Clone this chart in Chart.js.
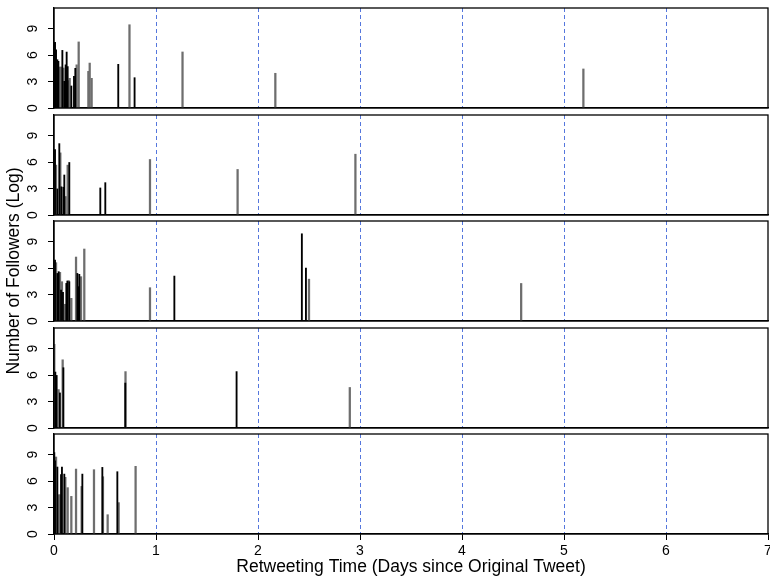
<!DOCTYPE html>
<html>
<head>
<meta charset="utf-8">
<script src="https://cdn.jsdelivr.net/npm/chart.js@4/dist/chart.umd.min.js"></script>
<style>
  html, body { margin: 0; padding: 0; background: #ffffff; }
  #wrap { position: relative; width: 770px; height: 584px; overflow: hidden; background: #ffffff; }
  #wrap canvas { position: absolute; left: 0; }
</style>
</head>
<body>
<div id="wrap"></div>
<script>
// Axis ticks and reference days
const dayTicks = [0, 1, 2, 3, 4, 5, 6, 7];
const logTicks = [0, 3, 6, 9];
const markerDays = [1, 2, 3, 4, 5, 6];

// Cascade 1: retweet times (days) and log follower counts
const c1DarkDays = [0.005, 0.010, 0.020, 0.033, 0.043, 0.082, 0.101, 0.114, 0.124, 0.134, 0.170, 0.196, 0.209, 0.630, 0.790];
const c1DarkLog  = [7.37, 7.45, 6.60, 5.48, 5.30, 6.54, 3.03, 4.90, 6.35, 4.70, 2.50, 3.60, 4.50, 4.96, 3.44];
const c1GrayDays = [0.052, 0.069, 0.092, 0.144, 0.154, 0.222, 0.242, 0.337, 0.350, 0.369, 0.740, 1.260, 2.170, 5.190];
const c1GrayLog  = [4.65, 4.65, 4.54, 3.10, 3.37, 4.90, 7.50, 4.16, 5.10, 3.37, 9.45, 6.36, 3.94, 4.43];

// Cascade 2
const c2DarkDays = [0.010, 0.033, 0.052, 0.072, 0.092, 0.101, 0.150, 0.454, 0.503];
const c2DarkLog  = [7.42, 2.96, 8.10, 3.20, 3.15, 4.54, 5.96, 3.07, 3.67];
const c2GrayDays = [0.020, 0.062, 0.114, 0.134, 0.941, 1.800, 2.955];
const c2GrayLog  = [5.66, 7.05, 2.10, 5.66, 6.30, 5.17, 6.90];

// Cascade 3
const c3DarkDays = [0.010, 0.033, 0.046, 0.069, 0.088, 0.121, 0.131, 0.150, 0.229, 0.242, 0.248, 1.180, 2.430, 2.470];
const c3DarkLog  = [6.92, 5.40, 5.60, 3.50, 3.25, 4.27, 4.54, 4.46, 5.40, 3.90, 5.30, 5.10, 9.90, 6.00];
const c3GrayDays = [0.020, 0.059, 0.078, 0.108, 0.144, 0.170, 0.216, 0.265, 0.297, 0.941, 2.500, 4.580];
const c3GrayLog  = [6.62, 5.52, 4.46, 1.90, 4.58, 2.57, 7.26, 5.03, 8.17, 3.78, 4.75, 4.26];

// Cascade 4
const c4DarkDays = [0.013, 0.026, 0.058, 0.092, 0.699, 1.790];
const c4DarkLog  = [6.35, 5.97, 3.98, 6.84, 5.10, 6.40];
const c4GrayDays = [0.003, 0.045, 0.085, 0.701, 2.900];
const c4GrayLog  = [9.50, 4.36, 7.74, 6.40, 4.60];

// Cascade 5
const c5DarkDays = [0.003, 0.010, 0.033, 0.069, 0.078, 0.101, 0.278, 0.474, 0.621];
const c5DarkLog  = [9.23, 8.30, 7.60, 6.73, 7.60, 6.80, 6.80, 7.56, 7.07];
const c5GrayDays = [0.020, 0.042, 0.059, 0.111, 0.134, 0.170, 0.216, 0.271, 0.392, 0.480, 0.526, 0.634, 0.800];
const c5GrayLog  = [8.74, 4.46, 4.46, 6.43, 5.26, 4.27, 7.37, 5.40, 7.30, 6.50, 2.19, 3.56, 7.68];

const cascades = [
  [c1DarkDays, c1DarkLog, c1GrayDays, c1GrayLog],
  [c2DarkDays, c2DarkLog, c2GrayDays, c2GrayLog],
  [c3DarkDays, c3DarkLog, c3GrayDays, c3GrayLog],
  [c4DarkDays, c4DarkLog, c4GrayDays, c4GrayLog],
  [c5DarkDays, c5DarkLog, c5GrayDays, c5GrayLog]
];

Chart.defaults.font.family = '"Liberation Sans", Arial, Helvetica, sans-serif';
Chart.defaults.color = '#000000';

const FONT_TICK = 14;
const FONT_TITLE = 17.5;
const AREA_LEFT = 54;
const AREA_RIGHT_PAD = 2;
const AREA_H = 100;
const areaTops = [8, 114.5, 221, 327.5, 434];

// Box around each panel's plotting region
const framePlugin = {
  id: 'frame',
  afterDraw(chart) {
    const a = chart.chartArea;
    const ctx = chart.ctx;
    ctx.save();
    ctx.strokeStyle = '#000000';
    ctx.lineWidth = 1.3;
    ctx.strokeRect(a.left, a.top, a.right - a.left, a.bottom - a.top);
    ctx.restore();
  }
};

// Fixed axis box sizes, with no extra room reserved for edge labels
const fixBox = (size) => (s) => {
  if (s.isHorizontal()) s.height = size; else s.width = size;
  s.paddingTop = 0; s.paddingBottom = 0; s.paddingLeft = 0; s.paddingRight = 0;
};

const wrap = document.getElementById('wrap');

cascades.forEach((c, i) => {
  const isLast = i === cascades.length - 1;
  const hasYTitle = i === 2;
  const padTop = hasYTitle ? 80 : 4;
  const padBottom = isLast ? 0 : (hasYTitle ? 80 : 4);
  const xAxisH = isLast ? 50 : 0;
  const canvasTop = areaTops[i] - padTop;
  const canvasH = padTop + AREA_H + padBottom + xAxisH;

  const canvas = document.createElement('canvas');
  canvas.width = 770;
  canvas.height = Math.round(canvasH);
  canvas.style.width = '770px';
  canvas.style.height = Math.round(canvasH) + 'px';
  canvas.style.top = canvasTop + 'px';
  wrap.appendChild(canvas);

  const toPoints = (days, vals) => days.map((d, k) => ({ x: d, y: vals[k] }));

  new Chart(canvas, {
    type: 'bar',
    data: {
      datasets: [
        {
          label: 'dark',
          data: toPoints(c[0], c[1]),
          backgroundColor: '#000000',
          borderWidth: 0,
          barThickness: 1.2,
          grouped: false
        },
        {
          label: 'gray',
          data: toPoints(c[2], c[3]),
          backgroundColor: '#6e6e6e',
          borderWidth: 0,
          barThickness: 1.6,
          grouped: false
        }
      ]
    },
    options: {
      responsive: false,
      animation: false,
      devicePixelRatio: 1,
      layout: { padding: { left: 0, right: AREA_RIGHT_PAD, top: padTop, bottom: padBottom } },
      plugins: { legend: { display: false }, tooltip: { enabled: false } },
      scales: {
        x: {
          type: 'linear',
          min: dayTicks[0],
          max: dayTicks[dayTicks.length - 1],
          offset: false,
          afterBuildTicks: (s) => { s.ticks = dayTicks.map(v => ({ value: v })); },
          afterFit: fixBox(xAxisH),
          ticks: {
            display: isLast,
            padding: 3,
            maxRotation: 0,
            font: { size: FONT_TICK },
            callback: (v) => String(v)
          },
          grid: {
            offset: false,
            drawTicks: isLast,
            tickLength: 6,
            tickColor: '#000000',
            tickWidth: 1,
            lineWidth: 1,
            color: (ctx) => (ctx.tick && markerDays.includes(ctx.tick.value)) ? '#5577dd' : 'rgba(0,0,0,0)'
          },
          border: { display: true, color: '#000000', width: 1.3, dash: [4, 3] },
          title: {
            display: isLast,
            text: 'Retweeting Time (Days since Original Tweet)',
            font: { size: FONT_TITLE },
            align: 'center',
            padding: { top: 0, bottom: 6 }
          }
        },
        y: {
          type: 'linear',
          min: 0,
          max: 11.35,
          afterBuildTicks: (s) => { s.ticks = logTicks.map(v => ({ value: v })); },
          afterFit: fixBox(AREA_LEFT),
          ticks: {
            minRotation: 90,
            maxRotation: 90,
            crossAlign: 'center',
            padding: 11,
            font: { size: FONT_TICK },
            callback: (v) => String(v)
          },
          grid: {
            drawOnChartArea: false,
            drawTicks: true,
            tickLength: 6,
            tickColor: '#000000',
            tickWidth: 1
          },
          border: { display: true, color: '#000000', width: 1.3 },
          title: {
            display: hasYTitle,
            text: 'Number of Followers (Log)',
            font: { size: FONT_TITLE },
            padding: { top: 3.5, bottom: 0 }
          }
        }
      }
    },
    plugins: [framePlugin]
  });
});
</script>
</body>
</html>
